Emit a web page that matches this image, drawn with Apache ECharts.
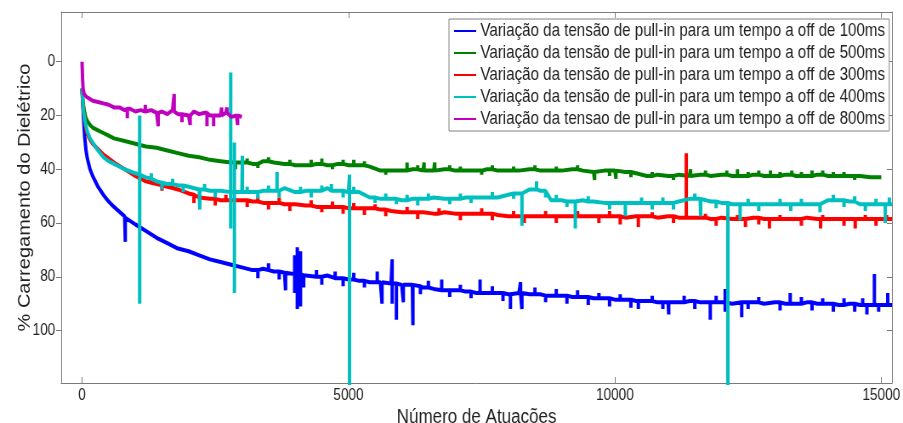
<!DOCTYPE html>
<html>
<head>
<meta charset="utf-8">
<script src="https://cdn.jsdelivr.net/npm/echarts@6/dist/echarts.min.js"></script>
<style>
  html, body { margin: 0; padding: 0; background: #fff; overflow: hidden; }
  /* the figure is laid out wider and then squeezed horizontally to 903px */
  #chart { width: 1062px; height: 423px; transform: scaleX(0.8503); transform-origin: 0 0; }
</style>
</head>
<body>
<div id="chart"></div>
<script>
// number of actuations at which the four long runs were sampled
const actuations = [0, 10, 25, 50, 75, 100, 150, 200, 300, 400, 500, 600, 800,
  1000, 1200, 1400, 1600, 1800, 2000, 2200, 2400, 2600, 2800, 3000, 3200, 3400, 3600, 3800,
  4000, 4200, 4400, 4600, 4800, 5000, 5200, 5400, 5600, 5800, 6000, 6200, 6400, 6600, 6800,
  7000, 7200, 7400, 7600, 7800, 8000, 8200, 8400, 8600, 8800, 9000, 9200, 9400, 9600, 9800,
  10000, 10200, 10400, 10600, 10800, 11000, 11200, 11400, 11600, 11800, 12000, 12200, 12400,
  12600, 12800, 13000, 13200, 13400, 13600, 13800, 14000, 14200, 14400, 14600, 14800, 15000, 15200];

// % dielectric charging, off-time 100 ms
const off100 = [10, 14, 20, 28, 33, 36, 40, 42.5, 46.5, 49.5, 52, 54, 57.5,
  60.5, 63, 65.5, 67.5, 69.5, 70.5, 72, 73.5, 74.5, 75.5, 76.5, 77.5, 77, 78, 78.5,
  79, 79.5, 80, 79.5, 80.5, 81, 81.5, 82, 82, 82.5, 83, 83, 84, 84.5, 85,
  85, 85.5, 86, 86, 86, 86.5, 86, 86.5, 86.5, 87, 87, 87.5, 87.5, 88, 88,
  88.5, 88.5, 89, 89, 89.5, 89.5, 89.5, 89, 89.5, 89.5, 89.5, 90, 89.5,
  89.5, 90, 89.5, 90, 90, 89.5, 90, 90, 90.5, 90, 90.5, 90.5, 90.5, 90.5];
// off-time 500 ms (run stops at 15000 actuations)
const off500 = [10, 13, 16, 19, 21, 22, 23.5, 24.5, 25.5, 26.5, 27.5, 28.5, 29.5,
  30.5, 31.5, 32, 33, 34, 35, 35.5, 36.5, 37, 37.5, 37.5, 38, 37, 37.5, 38,
  38.5, 38.5, 38, 38.5, 38, 38.5, 38.5, 39, 40.5, 40.5, 40.5, 40, 40.5, 40.5, 40,
  40.5, 40.5, 40.5, 40, 40.5, 40.5, 40.5, 40, 40.5, 40.5, 40.5, 40, 40.5, 41, 40.5,
  40.5, 41, 41.5, 42.5, 42, 42.5, 42, 42.5, 42, 42.5, 42, 42.5, 42.5,
  42, 42.5, 42.5, 42, 42.5, 42.5, 42, 42.5, 42.5, 42.5, 42.5, 43, 43];
// off-time 300 ms
const off300 = [10, 14, 18, 22, 25, 27, 29, 30.5, 32.5, 34.5, 36, 37.5, 40,
  42.5, 44.5, 45.5, 46.5, 47.5, 49, 50.5, 51, 51.5, 51.5, 51.5, 52, 52.5, 52.5, 53,
  53, 53.5, 54, 54, 54, 54.5, 54.5, 54.5, 55, 55.5, 56, 56, 56, 56.5, 56,
  56.5, 56.5, 56.5, 56.5, 57, 57.5, 57.5, 57.5, 57.5, 57.5, 57.5, 57.5, 57.5, 57.5, 57.5,
  57.5, 58, 57.5, 57.5, 58, 57.5, 58, 58, 58, 58.5, 58, 58.5, 58.5,
  58, 58.5, 58.5, 58.5, 58.5, 58, 58.5, 58.5, 58.5, 58.5, 58.5, 58.5, 58.5, 58.5];
// off-time 400 ms
const off400 = [10, 13, 18, 21.5, 24, 26, 28.5, 30, 33, 35.5, 37, 38, 40,
  41.5, 43, 44.5, 45.5, 46, 46.5, 47.5, 48, 48, 48.5, 48.5, 48.5, 48, 48, 47,
  48.5, 48, 48, 47, 48, 48.5, 48.5, 50.5, 51, 51, 51.5, 51, 51, 50.5, 51,
  51, 50.5, 50.5, 50.5, 50.5, 49.5, 49, 47.5, 48, 51.5, 51.5, 52, 51.5, 52, 52.5,
  52.5, 52.5, 52.5, 52.5, 52.5, 52.5, 52, 51, 51, 52, 52.5, 53, 53,
  53, 53, 53, 53, 53, 53, 53, 51.5, 51.5, 52, 53, 53, 53, 53];

// off-time 800 ms, a shorter run
const actuations800 = [0, 10, 20, 40, 80, 120, 200, 300, 400, 500, 600, 700, 800, 900, 1000,
  1100, 1200, 1300, 1400, 1500, 1600, 1700, 1800, 1900, 2000, 2100, 2200, 2300, 2400, 2500,
  2600, 2700, 2800, 2900, 3000];
const off800 = [0, 6, 10, 12, 13, 13.5, 14.5, 15, 15.5, 16, 17, 17, 18, 17.5, 18.5,
  18, 19, 18, 19, 18.5, 19.5, 18, 19.5, 19, 20, 18.5, 19.5, 19, 20, 19.5,
  20, 19, 20.5, 20, 20.5];

// isolated readings: [actuation, successive values visited at that actuation]
const spikes100 = [[812, 58, 67, 58], [3300, 77.5, 80.5, 77.5], [3500, 77.5, 75, 77.5],
  [3700, 78, 81, 78], [3820, 78.5, 85, 78.5], [3990, 79, 72, 86, 79],
  [4040, 79, 69, 92, 79], [4100, 79, 70.5, 91, 79], [4160, 79.5, 84, 79.5],
  [4400, 80, 77.5, 80], [4500, 80, 83, 80], [4750, 80.5, 78, 80.5], [4900, 80.5, 83.5, 80.5],
  [5100, 81, 78.5, 81], [5300, 81.5, 84, 81.5],
  [5540, 82, 78, 82], [5630, 82, 90, 82], [5820, 82.5, 73.5, 90, 82.5], [5900, 82.5, 96, 82.5],
  [6030, 83, 89.5, 83], [6210, 83, 98, 83], [6350, 83.5, 86.5, 83.5], [6500, 84, 81.5, 84],
  [6750, 85, 81, 85], [6900, 85, 87.5, 85], [7100, 85, 83, 85], [7300, 85.5, 88, 85.5],
  [7470, 86, 81, 86], [7700, 86, 83.5, 86], [7900, 86, 89, 86],
  [8040, 86.5, 92, 86.5], [8230, 86, 82, 86], [8255, 86, 92, 86], [8500, 86.5, 84, 86.5],
  [8700, 87, 89.5, 87], [8900, 87, 84.5, 87], [9100, 87, 90, 87], [9300, 87.5, 85, 87.5],
  [9500, 87.5, 90.5, 87.5], [9700, 88, 86, 88], [9900, 88, 91, 88], [10100, 88.5, 86.5, 88.5],
  [10300, 88.5, 91.5, 88.5], [10440, 89, 92, 89], [10700, 89, 87, 89], [10900, 89.5, 92, 89.5],
  [11010, 89.5, 94, 89.5], [11300, 89.5, 87, 89.5], [11500, 89, 92, 89],
  [11790, 89.5, 96, 89.5], [11900, 89.5, 87, 89.5], [12070, 89.5, 84.5, 93, 89.5],
  [12380, 89.5, 95, 89.5], [12500, 89.5, 92, 89.5], [12700, 89.5, 87.5, 89.5],
  [13100, 89.5, 92.5, 89.5], [13290, 90, 86, 90], [13500, 90, 87.5, 90], [13700, 89.5, 92.5, 89.5],
  [13900, 90, 88, 90], [14100, 90, 93, 90], [14300, 90.5, 88, 90.5], [14500, 90, 93, 90],
  [14650, 90.5, 88, 90.5], [14730, 90.5, 94, 90.5], [14870, 90.5, 79, 90.5],
  [14950, 90.5, 93, 90.5], [15120, 90.5, 86, 90.5]];
const spikes500 = [[2880, 37.5, 40, 37.5], [3100, 37.5, 36, 37.5], [3300, 38, 39.5, 38],
  [3500, 37, 35.5, 37], [3900, 38, 36.5, 38], [4300, 38.5, 36.5, 38.5], [4500, 38, 36, 38],
  [4700, 38.5, 40, 38.5], [4900, 38, 36.5, 38], [5100, 38.5, 36.5, 38.5], [5300, 38.5, 37, 38.5],
  [5700, 40.5, 42, 40.5], [6100, 40.5, 37.5, 40.5], [6300, 40, 38.5, 40], [6420, 40.5, 37.5, 40.5],
  [6620, 40.5, 37.5, 40.5], [6900, 40, 38.5, 40], [7100, 40.5, 39, 40.5], [7500, 40.5, 42, 40.5],
  [7700, 40, 38.5, 40], [8100, 40.5, 39, 40.5], [8500, 40, 38.5, 40], [8900, 40.5, 39, 40.5],
  [9300, 40, 38.5, 40], [9620, 41, 44, 41], [9900, 40.5, 42.5, 40.5], [10020, 40.5, 43.5, 40.5],
  [10300, 41, 43, 41], [10700, 42.5, 41, 42.5], [11100, 42.5, 44, 42.5],
  [11420, 42.5, 40, 42.5], [11700, 42, 40.5, 42], [12100, 42, 40.5, 42], [12300, 42.5, 40, 42.5],
  [12500, 42.5, 41, 42.5], [12700, 42, 40.5, 42], [12920, 42.5, 40.5, 42.5],
  [13100, 42.5, 41, 42.5], [13320, 42, 40.5, 42], [13500, 42.5, 41, 42.5],
  [13700, 42.5, 40.5, 42.5], [13900, 42, 40.5, 42], [14100, 42.5, 41, 42.5],
  [14300, 42.5, 41, 42.5], [14500, 42.5, 44, 42.5]];
const spikes300 = [[1300, 45, 43, 45], [1500, 46, 48, 46], [1700, 47, 45, 47], [2100, 49.5, 52.5, 49.5],
  [2500, 51, 53.5, 51], [2700, 51.5, 49.5, 51.5], [3100, 51.5, 54, 51.5], [3300, 52, 50, 52],
  [3500, 52.5, 55, 52.5], [3700, 52.5, 50.5, 52.5], [3900, 53, 55.5, 53], [4300, 53.5, 51.5, 53.5],
  [4500, 54, 56, 54], [4700, 54, 52, 54], [4900, 54, 56.5, 54], [5100, 54.5, 52.5, 54.5],
  [5300, 54.5, 57, 54.5], [5500, 54.5, 53, 54.5], [5700, 55, 57.5, 55], [6100, 56, 54, 56],
  [6300, 56, 58.5, 56], [6700, 56.5, 54.5, 56.5], [7100, 56.5, 59, 56.5], [7500, 56.5, 54.5, 56.5],
  [7700, 56.5, 59, 56.5], [8100, 57.5, 55.5, 57.5], [8300, 57.5, 60, 57.5], [8700, 57.5, 55.5, 57.5],
  [8900, 57.5, 60, 57.5], [9300, 57.5, 55.5, 57.5], [9700, 57.5, 60, 57.5], [9900, 57.5, 55.5, 57.5],
  [10100, 57.5, 60.5, 57.5], [10440, 57.5, 61.5, 57.5], [10700, 57.5, 56, 57.5],
  [11100, 57.5, 60, 57.5], [11340, 58, 34, 58], [11700, 58, 56.5, 58], [11900, 58.5, 61, 58.5],
  [12300, 58.5, 57, 58.5], [12450, 58.5, 61.5, 58.5], [12700, 58, 60.5, 58], [12900, 58.5, 62, 58.5],
  [13100, 58.5, 57, 58.5], [13500, 58.5, 61, 58.5], [13860, 58.5, 62, 58.5], [13900, 58.5, 57, 58.5],
  [14300, 58.5, 61, 58.5], [14510, 58.5, 62, 58.5], [14700, 58.5, 57, 58.5],
  [14900, 58.5, 61, 58.5], [15100, 58.5, 57, 58.5]];
const spikes400 = [[1082, 42, 20, 90, 42], [1300, 43.5, 41.5, 43.5], [1500, 45, 47.5, 45],
  [1700, 45.5, 43.5, 45.5], [1900, 46, 48.5, 46], [2210, 47.5, 55, 47.5], [2300, 47.5, 45.5, 47.5],
  [2500, 48, 50.5, 48], [2790, 48.5, 4, 62, 48.5], [2860, 48.5, 30, 86, 48.5], [3010, 48.5, 35, 48.5],
  [3100, 48.5, 46.5, 48.5], [3300, 48.5, 51, 48.5], [3500, 48, 46, 48], [3660, 48, 41, 48],
  [3700, 48, 50.5, 48], [4100, 48.5, 46.5, 48.5], [4300, 48, 50.5, 48], [4500, 48, 46, 48],
  [4680, 48, 45.5, 48], [4900, 48, 50.5, 48], [5020, 48.5, 42, 130, 48.5], [5100, 48.5, 46.5, 48.5],
  [5500, 50.5, 52.5, 50.5], [5700, 51, 49, 51], [5900, 51, 53, 51], [6100, 51.5, 49.5, 51.5],
  [6300, 51, 53.5, 51], [6500, 51, 49, 51], [6900, 51, 53, 51], [7100, 51, 49, 51],
  [7300, 50.5, 52.5, 50.5], [7700, 50.5, 48.5, 50.5], [8100, 49, 51, 49], [8256, 49, 61, 49],
  [8530, 47.5, 44.5, 47.5], [8700, 48, 50.5, 48], [8900, 51.5, 49.5, 51.5], [9100, 52, 54, 52],
  [9257, 52, 62, 52], [9500, 52, 50, 52], [9900, 52.5, 55, 52.5], [10196, 52.5, 57.5, 52.5],
  [10500, 52.5, 50.5, 52.5], [10700, 52.5, 55, 52.5], [10900, 52.5, 50.5, 52.5],
  [11100, 52.5, 55, 52.5], [11500, 51, 49, 51], [11610, 51, 57.5, 51], [11900, 52, 54.5, 52],
  [12120, 52.5, 130, 52.5], [12350, 53, 59, 53], [12500, 53, 51, 53], [12700, 53, 55.5, 53],
  [13100, 53, 51, 53], [13300, 53, 55.5, 53], [13500, 53, 51, 53], [13850, 53, 56, 53],
  [14100, 51.5, 49.5, 51.5], [14300, 51.5, 54, 51.5], [14500, 52, 50, 52], [14700, 53, 55.5, 53],
  [14900, 53, 51, 53], [15074, 53, 60, 53], [15150, 53, 50.5, 53]];
const spikes800 = [[850, 17.5, 21, 17.5], [1188, 18.5, 16, 18.5], [1430, 19, 24, 19],
  [1730, 18.5, 12, 18.5], [1876, 19.5, 22.5, 19.5], [2030, 20, 23.5, 20], [2345, 19, 24, 19],
  [2470, 20, 24, 20], [2620, 20, 17, 20], [2720, 19, 17, 19], [2920, 20, 23.5, 20]];

const legendNames = [
  'Variação da tensão de pull-in para um tempo a off de 100ms',
  'Variação da tensão de pull-in para um tempo a off de 500ms',
  'Variação da tensão de pull-in para um tempo a off de 300ms',
  'Variação da tensão de pull-in para um tempo a off de 400ms',
  'Variação da tensao de pull-in para um tempo a off de 800ms'
];
const colors = ['#0000ff', '#008000', '#ff0000', '#00bfbf', '#bf00bf'];
const xTicks = [0, 5000, 10000, 15000];
const yTicks = [0, 20, 40, 60, 80, 100];

// merge the sampled curve with the isolated readings, ordered by actuation
function buildPoints(xs, ys, spikes) {
  const pts = ys.map((v, i) => [xs[i], v]);
  spikes.forEach(s => s.slice(1).forEach(v => pts.push([s[0], v])));
  return pts.sort((a, b) => a[0] - b[0]);
}

const runs = [
  [actuations, off100, spikes100],
  [actuations, off500, spikes500],
  [actuations, off300, spikes300],
  [actuations, off400, spikes400],
  [actuations800, off800, spikes800]
];

const FONT = '"Liberation Sans", Arial, sans-serif';
const frame = '#7a7a7a';
const textCol = '#222';
const plain = v => String(v);

const chart = echarts.init(document.getElementById('chart'), null, { renderer: 'canvas' });

const xBase = { type: 'value', min: -390, max: 15200, splitLine: { show: false } };
const yBase = { type: 'value', min: -18.5, max: 119.5, inverse: true, splitLine: { show: false } };

chart.setOption({
  animation: false,
  color: colors,
  grid: { left: 72, right: 13, top: 12, bottom: 40, containLabel: false, outerBoundsMode: 'none' },
  legend: {
    orient: 'vertical',
    left: 528,
    top: 19,
    padding: [3, 5, 3, 6],
    icon: 'rect',
    itemWidth: 26,
    itemHeight: 2,
    itemGap: 4,
    backgroundColor: '#fff',
    borderColor: '#808080',
    borderWidth: 1,
    borderRadius: 0,
    textStyle: { fontFamily: FONT, fontSize: 17.8, color: textCol, lineHeight: 18 },
    data: legendNames
  },
  xAxis: [
    Object.assign({}, xBase, {
      position: 'bottom',
      name: 'Número de Atuações',
      nameLocation: 'middle',
      nameGap: 24,
      nameMoveOverlap: false,
      nameTextStyle: { fontFamily: FONT, fontSize: 20, color: textCol },
      axisLine: { show: true, onZero: false, lineStyle: { color: frame, width: 1 } },
      axisTick: { show: true, inside: true, length: 6, customValues: xTicks, lineStyle: { color: frame } },
      axisLabel: { customValues: xTicks, formatter: plain, margin: 5, fontFamily: FONT, fontSize: 16, color: textCol }
    }),
    Object.assign({}, xBase, {
      position: 'top',
      axisLine: { show: true, onZero: false, lineStyle: { color: frame, width: 1 } },
      axisTick: { show: true, inside: true, length: 6, customValues: xTicks, lineStyle: { color: frame } },
      axisLabel: { show: false }
    })
  ],
  yAxis: [
    Object.assign({}, yBase, {
      position: 'left',
      name: '% Carregamento do Dielétrico',
      nameLocation: 'middle',
      nameRotate: 90,
      nameGap: 33,
      nameMoveOverlap: false,
      nameTextStyle: { fontFamily: FONT, fontSize: 20, color: textCol },
      axisLine: { show: true, onZero: false, lineStyle: { color: frame, width: 1 } },
      axisTick: { show: true, inside: false, length: 6, customValues: yTicks, lineStyle: { color: frame } },
      axisLabel: { customValues: yTicks, formatter: plain, margin: 7, fontFamily: FONT, fontSize: 16, color: textCol }
    }),
    Object.assign({}, yBase, {
      position: 'right',
      axisLine: { show: true, onZero: false, lineStyle: { color: frame, width: 1 } },
      axisTick: { show: true, inside: true, length: 6, customValues: yTicks, lineStyle: { color: frame } },
      axisLabel: { show: false }
    })
  ],
  series: runs.map((r, i) => ({
    name: legendNames[i],
    type: 'line',
    xAxisIndex: 0,
    yAxisIndex: 0,
    data: buildPoints(r[0], r[1], r[2]),
    showSymbol: false,
    symbol: 'none',
    clip: true,
    sampling: null,
    lineStyle: { width: 4, color: colors[i] },
    z: 2 + i
  }))
});
</script>
</body>
</html>
